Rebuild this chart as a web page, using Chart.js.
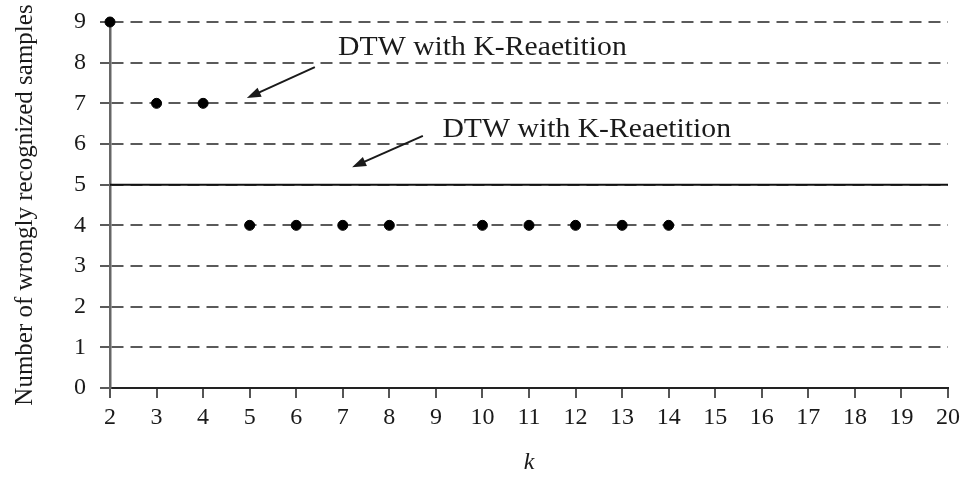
<!DOCTYPE html>
<html>
<head>
<meta charset="utf-8">
<script src="https://cdn.jsdelivr.net/npm/chart.js@4/dist/chart.umd.min.js"></script>
<style>
    html, body { margin: 0; padding: 0; background: #fff; }
    #wrap { width: 970px; height: 484px; }
</style>
</head>
<body>
<div id="wrap"><canvas id="errors-chart"></canvas></div>
<script>
// chart values
const kValues = [2, 3, 4, 5, 6, 7, 8, 10, 11, 12, 13, 14];
const wrongCounts = [9, 7, 7, 4, 4, 4, 4, 4, 4, 4, 4, 4];
const referenceK = [2, 20];
const referenceCounts = [5, 5];
const xTickValues = [2, 3, 4, 5, 6, 7, 8, 9, 10, 11, 12, 13, 14, 15, 16, 17, 18, 19, 20];
const yTickValues = [0, 1, 2, 3, 4, 5, 6, 7, 8, 9];
const noteTexts = ['DTW with K-Reaetition', 'DTW with K-Reaetition'];
// note anchors in data units: text centre, arrow tail, arrow head
const noteTextAt = [[10.0, 8.36], [12.24, 6.34]];
const noteArrowFrom = [[6.40, 7.89], [8.72, 6.20]];
const noteArrowTo = [[4.94, 7.13], [7.20, 5.43]];

const serif = "'Liberation Serif', 'DejaVu Serif', serif";

// draws the two text notes with arrows, placed through the chart scales
const notesPlugin = {
    id: 'notes',
    afterDatasetsDraw(chart) {
        const ctx = chart.ctx;
        const xs = chart.scales.x;
        const ys = chart.scales.y;
        ctx.save();
        ctx.fillStyle = '#1a1a1a';
        ctx.strokeStyle = '#1a1a1a';
        ctx.font = '27px ' + serif;
        ctx.textAlign = 'center';
        ctx.textBaseline = 'middle';
        noteTexts.forEach((txt, i) => {
            const tx = xs.getPixelForValue(noteTextAt[i][0]);
            const ty = ys.getPixelForValue(noteTextAt[i][1]);
            ctx.save();
            ctx.translate(tx, ty);
            ctx.scale(1.1, 1);
            ctx.fillText(txt, 0, 0);
            ctx.restore();

            const x1 = xs.getPixelForValue(noteArrowFrom[i][0]);
            const y1 = ys.getPixelForValue(noteArrowFrom[i][1]);
            const x2 = xs.getPixelForValue(noteArrowTo[i][0]);
            const y2 = ys.getPixelForValue(noteArrowTo[i][1]);
            const ang = Math.atan2(y2 - y1, x2 - x1);
            const headLen = 14;
            const headHalf = 5;
            ctx.lineWidth = 2;
            ctx.beginPath();
            ctx.moveTo(x1, y1);
            ctx.lineTo(x2 - Math.cos(ang) * headLen * 0.8, y2 - Math.sin(ang) * headLen * 0.8);
            ctx.stroke();
            ctx.beginPath();
            ctx.moveTo(x2, y2);
            ctx.lineTo(x2 - Math.cos(ang) * headLen - Math.sin(ang) * headHalf,
                       y2 - Math.sin(ang) * headLen + Math.cos(ang) * headHalf);
            ctx.lineTo(x2 - Math.cos(ang) * headLen + Math.sin(ang) * headHalf,
                       y2 - Math.sin(ang) * headLen - Math.cos(ang) * headHalf);
            ctx.closePath();
            ctx.fill();
        });
        ctx.restore();
    }
};

new Chart(document.getElementById('errors-chart').getContext('2d'), {
    type: 'scatter',
    data: {
        datasets: [
            {
                label: 'Reference',
                data: referenceK.map((k, i) => ({ x: k, y: referenceCounts[i] })),
                showLine: true,
                borderColor: '#111',
                borderWidth: 2,
                pointRadius: 0,
                clip: false,
                order: 2
            },
            {
                label: 'Wrongly recognized',
                data: kValues.map((k, i) => ({ x: k, y: wrongCounts[i] })),
                backgroundColor: '#000',
                borderColor: '#000',
                pointRadius: 5,
                clip: false,
                order: 1
            }
        ]
    },
    options: {
        responsive: true,
        maintainAspectRatio: false,
        animation: false,
        layout: { padding: { top: 22, right: 22, left: 0, bottom: 0 } },
        plugins: {
            legend: { display: false },
            tooltip: { enabled: false }
        },
        scales: {
            x: {
                type: 'linear',
                min: 2,
                max: 20,
                afterFit(scale) {
                    scale.height = 96;
                    scale.paddingLeft = 0;
                    scale.paddingRight = 0;
                },
                afterBuildTicks(scale) { scale.ticks = xTickValues.map(v => ({ value: v })); },
                ticks: {
                    color: '#1a1a1a',
                    padding: 5,
                    maxRotation: 0,
                    autoSkip: false,
                    font: { family: serif, size: 24 }
                },
                grid: {
                    drawOnChartArea: false,
                    drawTicks: true,
                    tickLength: 10,
                    color: '#555',
                    lineWidth: 2
                },
                border: { color: '#222', width: 2 },
                title: {
                    display: true,
                    text: 'k',
                    color: '#1a1a1a',
                    padding: { top: 0, bottom: 7 },
                    font: { family: serif, size: 24, style: 'italic' }
                }
            },
            y: {
                type: 'linear',
                min: 0,
                max: 9,
                afterFit(scale) {
                    scale.width = 110;
                    scale.paddingTop = 0;
                    scale.paddingBottom = 0;
                },
                afterBuildTicks(scale) { scale.ticks = yTickValues.map(v => ({ value: v })); },
                ticks: {
                    color: '#1a1a1a',
                    padding: 14,
                    autoSkip: false,
                    font: { family: serif, size: 24 }
                },
                grid: {
                    drawOnChartArea: true,
                    drawTicks: true,
                    tickLength: 10,
                    color: '#5a5a5a',
                    lineWidth: 2,
                    tickBorderDash: []
                },
                border: { color: '#666', width: 2.5, dash: [12, 7] },
                title: {
                    display: true,
                    text: 'Number of wrongly recognized samples',
                    color: '#1a1a1a',
                    padding: { top: 10, bottom: 0 },
                    font: { family: serif, size: 25 }
                }
            }
        }
    },
    plugins: [notesPlugin]
});
</script>
</body>
</html>
